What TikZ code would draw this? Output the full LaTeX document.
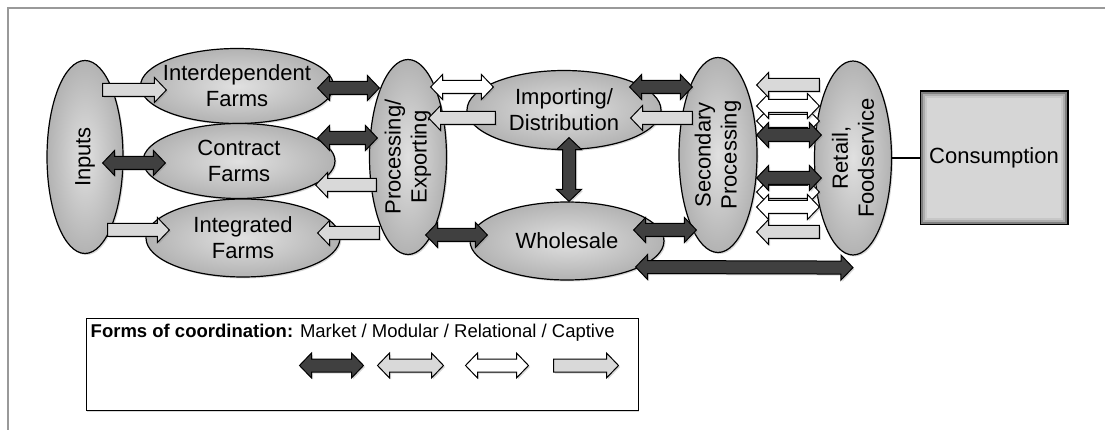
\documentclass[tikz,border=0pt]{standalone}
\usepackage{fontspec}
\setmainfont{Liberation Sans}
\usetikzlibrary{shapes,shadows,calc}
\tikzstyle{stage} = [ellipse, draw=black, line width=1.2pt, inner color=black!12, outer color=black!30, inner sep=0pt, drop shadow={shadow xshift=1.5pt,shadow yshift=-1.5pt,opacity=0.3}]
\tikzstyle{blk} = [draw=black, line width=1pt, line join=miter, drop shadow={shadow xshift=1.5pt,shadow yshift=-1.5pt,opacity=0.3}]
\tikzstyle{market} = [blk, fill=black!75]
\tikzstyle{modular} = [blk, fill=black!15]
\tikzstyle{relational} = [blk, fill=white]
\tikzstyle{captive} = [blk, fill=black!15]
\newcommand{\arrbody}{6.5pt}
\newcommand{\arrhead}{12.5pt}
\newcommand{\arrlen}{12pt}
% one-headed block arrow: style, from, to
\newcommand{\fatone}[3]{%
  \path #2 coordinate (fa) #3 coordinate (fb);
  \draw[#1] ($(fa)!\arrbody!90:(fb)$) -- ($(fb)!\arrlen!(fa)!\arrbody!-90:(fa)$)
    -- ($(fb)!\arrlen!(fa)!\arrhead!-90:(fa)$) -- (fb)
    -- ($(fb)!\arrlen!(fa)!\arrhead!90:(fa)$) -- ($(fb)!\arrlen!(fa)!\arrbody!90:(fa)$)
    -- ($(fa)!\arrbody!-90:(fb)$) -- cycle;}
% two-headed block arrow: style, from, to
\newcommand{\fattwo}[3]{%
  \path #2 coordinate (fa) #3 coordinate (fb);
  \draw[#1] (fa) -- ($(fa)!\arrlen!(fb)!\arrhead!90:(fb)$) -- ($(fa)!\arrlen!(fb)!\arrbody!90:(fb)$)
    -- ($(fb)!\arrlen!(fa)!\arrbody!-90:(fa)$) -- ($(fb)!\arrlen!(fa)!\arrhead!-90:(fa)$) -- (fb)
    -- ($(fb)!\arrlen!(fa)!\arrhead!90:(fa)$) -- ($(fb)!\arrlen!(fa)!\arrbody!90:(fa)$)
    -- ($(fa)!\arrlen!(fb)!\arrbody!-90:(fb)$) -- ($(fa)!\arrlen!(fb)!\arrhead!-90:(fb)$) -- cycle;}
\begin{document}
\begin{tikzpicture}[x=1pt, y=-1pt, font=\fontsize{22}{26}\selectfont]
\useasboundingbox (0,0) rectangle (1105,430);
% frame
\draw[black!40, line width=1.5pt] (8,430) -- (8,8) -- (1105,8);

% stages
\node[stage, minimum width=76pt, minimum height=193pt, label={[rotate=90]center:Inputs}] (inputs) at (85,157) {};
\node[stage, minimum width=193pt, minimum height=75pt, label={[align=center]center:{Interdependent\\Farms}}] (farmI) at (237,86) {};
\node[stage, minimum width=192pt, minimum height=75pt, label={[align=center]center:{Contract\\Farms}}] (farmC) at (239,161) {};
\node[stage, minimum width=194pt, minimum height=78pt, label={[align=center]center:{Integrated\\Farms}}] (farmG) at (243,238) {};
\node[stage, minimum width=77pt, minimum height=195pt, label={[rotate=90, align=center]center:{Processing/\\Exporting}}] (proc) at (408,157) {};
\node[stage, minimum width=194pt, minimum height=79pt, label={[align=center]center:{Importing/\\Distribution}}] (imp) at (564,110) {};
\node[stage, minimum width=194pt, minimum height=78pt, label={center:Wholesale}] (whole) at (567,241) {};
\node[stage, minimum width=78pt, minimum height=195pt, label={[rotate=90, align=center]center:{Secondary\\Processing}}] (sec) at (718,155) {};
\node[stage, minimum width=77pt, minimum height=194pt, label={[rotate=90, align=center]center:{Retail,\\Foodservice}}] (retail) at (853,158) {};
\node[draw=black, line width=3pt, fill=black!16, minimum width=146pt, minimum height=132pt, drop shadow={shadow xshift=1.5pt,shadow yshift=-1.5pt,opacity=0.3}] (cons) at (994,158) {};
% bevel of the consumption box
\draw[black!50, line width=2pt] ([shift={(2.5,2.5)}]cons.north west) rectangle ([shift={(-2.5,-2.5)}]cons.south east);
\draw[black!32, line width=2pt] ([shift={(4.5,4.5)}]cons.north west) rectangle ([shift={(-4.5,-4.5)}]cons.south east);
\draw[black!22, line width=2pt] ([shift={(6.5,6.5)}]cons.north west) rectangle ([shift={(-6.5,-6.5)}]cons.south east);
\node[inner sep=0pt] (constext) at (cons) {Consumption};
\draw[line width=2.5pt] (retail.east) -- (cons.west);

% inputs to farms
\fatone{captive}{([shift={(-21,-67)}]inputs.east)}{([shift={(26.5,4)}]farmI.west)}
\fattwo{market}{([shift={(-21,6)}]inputs.east)}{([shift={(23,2)}]farmC.west)}
\fatone{captive}{([shift={(-16,73)}]inputs.east)}{([shift={(24,-8)}]farmG.west)}
% farms to processing
\fattwo{market}{([shift={(-16.5,2)}]farmI.east)}{([shift={(10.5,-69)}]proc.west)}
\fattwo{market}{([shift={(-18,-23)}]farmC.east)}{([shift={(8.5,-19)}]proc.west)}
\fatone{captive}{([shift={(7.5,28)}]proc.west)}{([shift={(-20,24)}]farmC.east)}
\fatone{captive}{([shift={(10.5,76)}]proc.west)}{([shift={(-23,-5)}]farmG.east)}
% processing to importing and wholesale
\fattwo{relational}{([shift={(-16.5,-70)}]proc.east)}{([shift={(27,-23)}]imp.west)}
\fatone{captive}{([shift={(29,8)}]imp.west)}{([shift={(-18.5,-39)}]proc.east)}
\fattwo{market}{([shift={(-21.5,78)}]proc.east)}{([shift={(18,-6)}]whole.west)}
\fattwo{market}{([shift={(5,-12.5)}]imp.south)}{([shift={(2,0)}]whole.north)}
% to secondary processing
\fattwo{market}{([shift={(-32,-23)}]imp.east)}{([shift={(14,-68)}]sec.west)}
\fatone{captive}{([shift={(14,-37)}]sec.west)}{([shift={(-31,8)}]imp.east)}
\fattwo{market}{([shift={(-31,-11)}]whole.east)}{([shift={(18,75)}]sec.west)}
\fattwo{market}{([shift={(-29,26)}]whole.east)}{([shift={(0,12)}]retail.south)}
% secondary processing to retail
\fattwo{relational}{([shift={(-1,-34)}]sec.east)}{([shift={(5.5,-37)}]retail.west)}
\fattwo{relational}{([shift={(-1,-49)}]sec.east)}{([shift={(5.5,-52)}]retail.west)}
\fatone{captive}{([shift={(5.5,-73)}]retail.west)}{([shift={(-1,-70)}]sec.east)}
\fattwo{market}{([shift={(-1,-20)}]sec.east)}{([shift={(7.5,-23)}]retail.west)}
\fattwo{relational}{([shift={(-1,37)}]sec.east)}{([shift={(5.5,34)}]retail.west)}
\fattwo{relational}{([shift={(-1,52)}]sec.east)}{([shift={(5.5,49)}]retail.west)}
\fattwo{market}{([shift={(-1,23)}]sec.east)}{([shift={(7.5,20)}]retail.west)}
\fatone{captive}{([shift={(5.5,74)}]retail.west)}{([shift={(-1,77)}]sec.east)}

% legend
\node[draw=black, line width=1pt, fill=white, minimum width=552pt, minimum height=92pt, drop shadow={shadow xshift=1pt,shadow yshift=-1.5pt,opacity=0.3}] (legend) at (362,364) {};
\node[anchor=west, inner sep=0pt, font=\fontsize{18.5}{22}\selectfont] (legtext) at ([shift={(5,15)}]legend.north west) {\textbf{Forms of coordination:} Market / Modular / Relational / Captive};
\fattwo{market}{([shift={(214,48)}]legend.north west)}{([shift={(278,48)}]legend.north west)}
\fattwo{modular}{([shift={(292,48)}]legend.north west)}{([shift={(358,48)}]legend.north west)}
\fattwo{relational}{([shift={(380,48)}]legend.north west)}{([shift={(443,48)}]legend.north west)}
\fatone{captive}{([shift={(468,48)}]legend.north west)}{([shift={(533,48)}]legend.north west)}
\end{tikzpicture}
\end{document}
